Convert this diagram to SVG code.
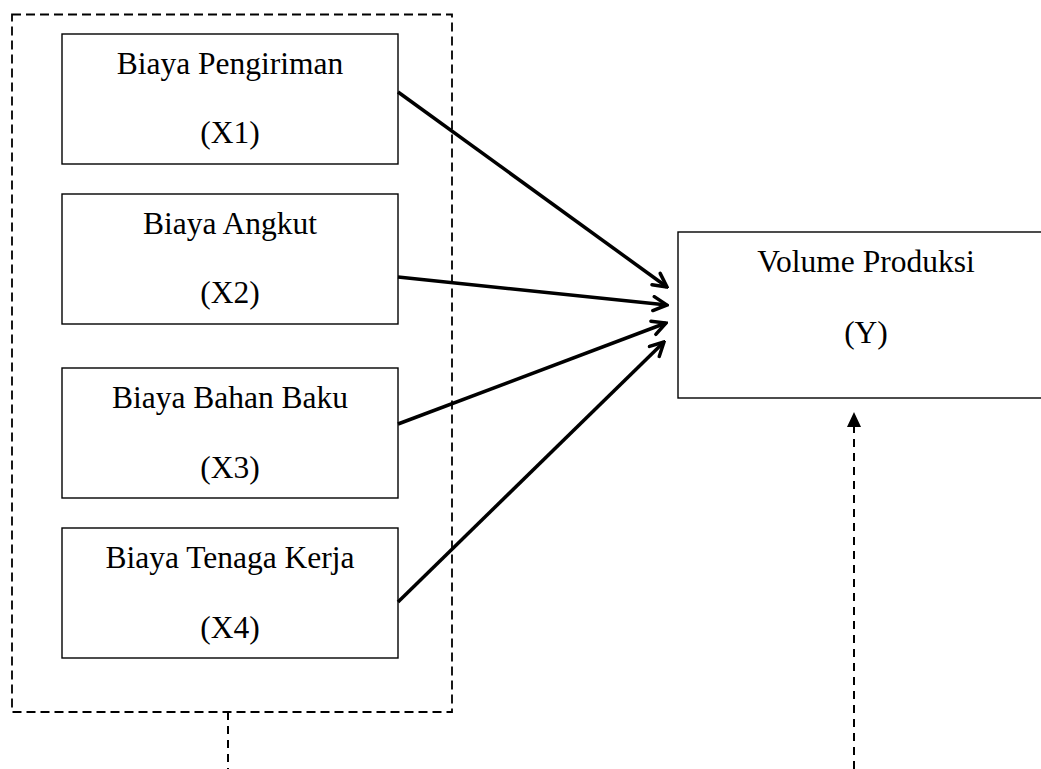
<svg xmlns="http://www.w3.org/2000/svg" width="1041" height="769" viewBox="0 0 1041 769">
<style>
.box{fill:#fff;stroke:#000;stroke-width:1.4}
.t{font-family:"Liberation Serif","Times New Roman",serif;font-size:31.5px;fill:#000;text-anchor:middle}
.arr{stroke:#000;stroke-width:3.5;fill:none}
.dash{stroke:#000;stroke-width:1.8;fill:none;stroke-dasharray:9 5}
.vdash{stroke:#000;stroke-width:2;fill:none;stroke-dasharray:8 6}
</style>
<defs>
<marker id="open" viewBox="0 0 18 18" refX="16" refY="9" markerWidth="18" markerHeight="18" markerUnits="userSpaceOnUse" orient="auto">
<path d="M2.5,2 L16,9 L2.5,16" stroke="#000" stroke-width="3.5" fill="none" stroke-linecap="round" stroke-linejoin="miter"/>
</marker>
</defs>
<rect id="group-x" class="dash" x="12" y="14.5" width="440" height="697.5"/>
<g id="x1">
<rect class="box" x="62" y="34" width="336" height="130"/>
<text class="t" x="230" y="74">Biaya Pengiriman</text>
<text class="t" x="230" y="143">(X1)</text>
</g>
<g id="x2">
<rect class="box" x="62" y="194" width="336" height="130"/>
<text class="t" x="230" y="234">Biaya Angkut</text>
<text class="t" x="230" y="303">(X2)</text>
</g>
<g id="x3">
<rect class="box" x="62" y="368" width="336" height="130"/>
<text class="t" x="230" y="408">Biaya Bahan Baku</text>
<text class="t" x="230" y="478">(X3)</text>
</g>
<g id="x4">
<rect class="box" x="62" y="528" width="336" height="130"/>
<text class="t" x="230" y="568">Biaya Tenaga Kerja</text>
<text class="t" x="230" y="638">(X4)</text>
</g>
<g id="y">
<rect class="box" x="678" y="232" width="380" height="166"/>
<text class="t" x="866" y="272">Volume Produksi</text>
<text class="t" x="866" y="343">(Y)</text>
</g>
<g id="connectors">
<line class="arr" x1="398" y1="92" x2="667" y2="287" marker-end="url(#open)"/>
<line class="arr" x1="398" y1="277" x2="667" y2="305" marker-end="url(#open)"/>
<line class="arr" x1="398" y1="424" x2="666" y2="323" marker-end="url(#open)"/>
<line class="arr" x1="398" y1="602" x2="664" y2="342" marker-end="url(#open)"/>
<line class="vdash" x1="228" y1="712" x2="228" y2="769"/>
<line class="vdash" x1="854" y1="769" x2="854" y2="427"/>
<path d="M854,412 L861,427 L847,427 Z" fill="#000"/>
<line x1="854" y1="426" x2="854" y2="432" stroke="#000" stroke-width="2"/>
</g>
</svg>
